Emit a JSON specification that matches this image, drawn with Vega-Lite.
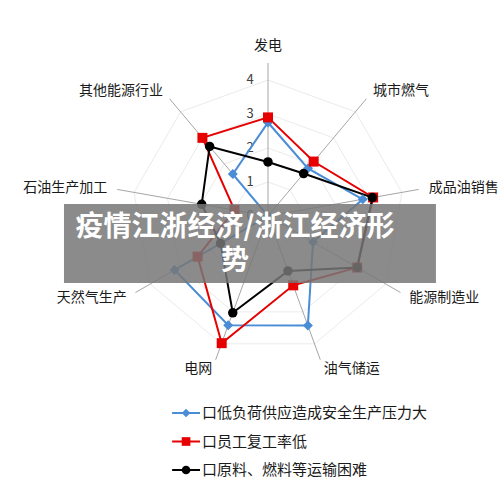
{
  "$schema": "https://vega.github.io/schema/vega-lite/v6.json",
  "width": 500,
  "height": 491,
  "autosize": "none",
  "padding": 0,
  "background": "white",
  "config": {"view": {"stroke": null}, "font": "Noto Sans CJK SC"},
  "datasets": {
    "axes": [
      {"sector": "发电", "k": 0},
      {"sector": "城市燃气", "k": 1},
      {"sector": "成品油销售", "k": 2},
      {"sector": "能源制造业", "k": 3},
      {"sector": "油气储运", "k": 4},
      {"sector": "电网", "k": 5},
      {"sector": "天然气生产", "k": 6},
      {"sector": "石油生产加工", "k": 7},
      {"sector": "其他能源行业", "k": 8}
    ],
    "grid": [
      {"level": 1, "k": [0, 1, 2, 3, 4, 5, 6, 7, 8]},
      {"level": 2, "k": [0, 1, 2, 3, 4, 5, 6, 7, 8]},
      {"level": 3, "k": [0, 1, 2, 3, 4, 5, 6, 7, 8]},
      {"level": 4, "k": [0, 1, 2, 3, 4, 5, 6, 7, 8]}
    ],
    "ticks": [{"tick": 0}, {"tick": 1}, {"tick": 2}, {"tick": 3}, {"tick": 4}],
    "legend": [
      {"series": "口低负荷供应造成安全生产压力大"},
      {"series": "口员工复工率低"},
      {"series": "口原料、燃料等运输困难"}
    ],
    "scores": [
      {"series": "口低负荷供应造成安全生产压力大", "sector": "发电", "value": 2.75},
      {"series": "口低负荷供应造成安全生产压力大", "sector": "城市燃气", "value": 1.83},
      {"series": "口低负荷供应造成安全生产压力大", "sector": "成品油销售", "value": 2.83},
      {"series": "口低负荷供应造成安全生产压力大", "sector": "能源制造业", "value": 1.53},
      {"series": "口低负荷供应造成安全生产压力大", "sector": "油气储运", "value": 3.43},
      {"series": "口低负荷供应造成安全生产压力大", "sector": "电网", "value": 3.42},
      {"series": "口低负荷供应造成安全生产压力大", "sector": "天然气生产", "value": 3.17},
      {"series": "口低负荷供应造成安全生产压力大", "sector": "石油生产加工", "value": 0},
      {"series": "口低负荷供应造成安全生产压力大", "sector": "其他能源行业", "value": 1.61},
      {"series": "口员工复工率低", "sector": "发电", "value": 2.9},
      {"series": "口员工复工率低", "sector": "城市燃气", "value": 2.09},
      {"series": "口员工复工率低", "sector": "成品油销售", "value": 3.14},
      {"series": "口员工复工率低", "sector": "能源制造业", "value": 3.03},
      {"series": "口员工复工率低", "sector": "油气储运", "value": 2.17},
      {"series": "口员工复工率低", "sector": "电网", "value": 3.98},
      {"series": "口员工复工率低", "sector": "天然气生产", "value": 2.39},
      {"series": "口员工复工率低", "sector": "石油生产加工", "value": 1.0},
      {"series": "口员工复工率低", "sector": "其他能源行业", "value": 3.0},
      {"series": "口原料、燃料等运输困难", "sector": "发电", "value": 1.59},
      {"series": "口原料、燃料等运输困难", "sector": "城市燃气", "value": 1.63},
      {"series": "口原料、燃料等运输困难", "sector": "成品油销售", "value": 3.12},
      {"series": "口原料、燃料等运输困难", "sector": "能源制造业", "value": 3.03},
      {"series": "口原料、燃料等运输困难", "sector": "油气储运", "value": 1.72},
      {"series": "口原料、燃料等运输困难", "sector": "电网", "value": 3.03},
      {"series": "口原料、燃料等运输困难", "sector": "天然气生产", "value": 1.61},
      {"series": "口原料、燃料等运输困难", "sector": "石油生产加工", "value": 1.98},
      {"series": "口原料、燃料等运输困难", "sector": "其他能源行业", "value": 2.67}
    ]
  },
  "resolve": {"scale": {"y": "independent"}},
  "layer": [
    {
      "data": {"name": "grid"},
      "transform": [
        {"flatten": ["k"]},
        {"calculate": "datum.level * sin(datum.k * 2 * PI / 9)", "as": "x"},
        {"calculate": "datum.level * cos(datum.k * 2 * PI / 9)", "as": "y"}
      ],
      "mark": {"type": "line", "interpolate": "linear-closed", "color": "#ebebeb", "strokeWidth": 1},
      "encoding": {
        "x": {"field": "x", "type": "quantitative", "scale": {"domain": [-7.882, 6.824], "nice": false, "zero": false}, "axis": null},
        "y": {"field": "y", "type": "quantitative", "scale": {"domain": [-8.088, 6.353], "nice": false, "zero": false}, "axis": null},
        "detail": {"field": "level", "type": "nominal"},
        "order": {"field": "k", "type": "quantitative"}
      }
    },
    {
      "data": {"name": "axes"},
      "transform": [
        {"calculate": "4.5 * sin(datum.k * 2 * PI / 9)", "as": "xe"},
        {"calculate": "4.5 * cos(datum.k * 2 * PI / 9)", "as": "ye"}
      ],
      "mark": {"type": "rule", "color": "#a6a6a6", "strokeWidth": 1},
      "encoding": {
        "x": {"field": "xe", "type": "quantitative", "scale": {"domain": [-7.882, 6.824], "nice": false, "zero": false}, "axis": null},
        "y": {"field": "ye", "type": "quantitative", "scale": {"domain": [-8.088, 6.353], "nice": false, "zero": false}, "axis": null},
        "x2": {"datum": 0},
        "y2": {"datum": 0}
      }
    },
    {
      "data": {"name": "ticks"},
      "mark": {"type": "text", "fontSize": 13, "color": "#404040", "align": "center", "baseline": "middle", "dx": -18},
      "encoding": {
        "x": {"datum": 0, "type": "quantitative", "scale": {"domain": [-7.882, 6.824], "nice": false, "zero": false}, "axis": null},
        "y": {"field": "tick", "type": "quantitative", "scale": {"domain": [-8.088, 6.353], "nice": false, "zero": false}, "axis": null},
        "text": {"field": "tick", "type": "quantitative"}
      }
    },
    {
      "data": {"name": "axes"},
      "transform": [
        {"calculate": "4.8 * sin(datum.k * 2 * PI / 9)", "as": "lx"},
        {"calculate": "4.8 * cos(datum.k * 2 * PI / 9)", "as": "ly"}
      ],
      "encoding": {
        "x": {"field": "lx", "type": "quantitative", "scale": {"domain": [-7.882, 6.824], "nice": false, "zero": false}, "axis": null},
        "y": {"field": "ly", "type": "quantitative", "scale": {"domain": [-8.088, 6.353], "nice": false, "zero": false}, "axis": null},
        "text": {"field": "sector", "type": "nominal"}
      },
      "layer": [
        {
          "transform": [{"filter": "datum.k == 0"}],
          "mark": {"type": "text", "fontSize": 14, "color": "#1a1a1a", "align": "center", "baseline": "bottom"}
        },
        {
          "transform": [{"filter": "datum.k >= 1 && datum.k <= 4"}],
          "mark": {"type": "text", "fontSize": 14, "color": "#1a1a1a", "align": "left", "baseline": "middle"}
        },
        {
          "transform": [{"filter": "datum.k >= 5"}],
          "mark": {"type": "text", "fontSize": 14, "color": "#1a1a1a", "align": "right", "baseline": "middle"}
        }
      ]
    },
    {
      "data": {"name": "scores"},
      "transform": [
        {"lookup": "sector", "from": {"data": {"name": "axes"}, "key": "sector", "fields": ["k"]}},
        {"calculate": "datum.value * sin(datum.k * 2 * PI / 9)", "as": "x"},
        {"calculate": "datum.value * cos(datum.k * 2 * PI / 9)", "as": "y"}
      ],
      "encoding": {
        "x": {"field": "x", "type": "quantitative", "scale": {"domain": [-7.882, 6.824], "nice": false, "zero": false}, "axis": null},
        "y": {"field": "y", "type": "quantitative", "scale": {"domain": [-8.088, 6.353], "nice": false, "zero": false}, "axis": null}
      },
      "layer": [
        {
          "mark": {"type": "line", "interpolate": "linear-closed", "strokeWidth": 2},
          "encoding": {
            "color": {
              "field": "series",
              "type": "nominal",
              "scale": {
                "domain": ["口低负荷供应造成安全生产压力大", "口员工复工率低", "口原料、燃料等运输困难"],
                "range": ["#4a8cd6", "#e60000", "#000000"]
              },
              "legend": null
            },
            "order": {"field": "k", "type": "quantitative"}
          }
        },
        {
          "transform": [{"filter": "datum.series === '口低负荷供应造成安全生产压力大'"}],
          "mark": {"type": "point", "shape": "diamond", "filled": true, "opacity": 1, "size": 100, "color": "#4a8cd6"}
        },
        {
          "transform": [{"filter": "datum.series === '口员工复工率低'"}],
          "mark": {"type": "point", "shape": "square", "filled": true, "opacity": 1, "size": 100, "color": "#e60000"}
        },
        {
          "transform": [{"filter": "datum.series === '口原料、燃料等运输困难'"}],
          "mark": {"type": "point", "shape": "circle", "filled": true, "opacity": 1, "size": 90, "color": "#000000"}
        }
      ]
    },
    {
      "data": {"name": "legend"},
      "encoding": {
        "y": {
          "field": "series",
          "type": "nominal",
          "scale": {
            "type": "point",
            "domain": ["口低负荷供应造成安全生产压力大", "口员工复工率低", "口原料、燃料等运输困难"],
            "range": [413, 470],
            "padding": 0
          },
          "axis": null
        }
      },
      "layer": [
        {
          "mark": {"type": "rule", "strokeWidth": 2},
          "encoding": {
            "x": {"datum": -2.82, "type": "quantitative", "scale": {"domain": [-7.882, 6.824], "nice": false, "zero": false}, "axis": null},
            "x2": {"datum": -2.0},
            "color": {
              "field": "series",
              "type": "nominal",
              "scale": {
                "domain": ["口低负荷供应造成安全生产压力大", "口员工复工率低", "口原料、燃料等运输困难"],
                "range": ["#4a8cd6", "#e60000", "#000000"]
              },
              "legend": null
            }
          }
        },
        {
          "mark": {"type": "point", "filled": true, "opacity": 1, "size": 75},
          "encoding": {
            "x": {"datum": -2.41, "type": "quantitative", "scale": {"domain": [-7.882, 6.824], "nice": false, "zero": false}, "axis": null},
            "color": {
              "field": "series",
              "type": "nominal",
              "scale": {
                "domain": ["口低负荷供应造成安全生产压力大", "口员工复工率低", "口原料、燃料等运输困难"],
                "range": ["#4a8cd6", "#e60000", "#000000"]
              },
              "legend": null
            },
            "shape": {
              "field": "series",
              "type": "nominal",
              "scale": {
                "domain": ["口低负荷供应造成安全生产压力大", "口员工复工率低", "口原料、燃料等运输困难"],
                "range": ["diamond", "square", "circle"]
              },
              "legend": null
            }
          }
        },
        {
          "mark": {"type": "text", "fontSize": 15, "color": "#1a1a1a", "align": "left", "baseline": "middle"},
          "encoding": {
            "x": {"datum": -1.94, "type": "quantitative", "scale": {"domain": [-7.882, 6.824], "nice": false, "zero": false}, "axis": null},
            "text": {"field": "series", "type": "nominal"}
          }
        }
      ]
    },
    {
      "data": {"values": [{}]},
      "mark": {"type": "rect", "color": "#777777", "opacity": 0.85},
      "encoding": {
        "x": {"datum": -6.0, "type": "quantitative", "scale": {"domain": [-7.882, 6.824], "nice": false, "zero": false}, "axis": null},
        "x2": {"datum": 4.94},
        "y": {"datum": 0.353, "type": "quantitative", "scale": {"domain": [-8.088, 6.353], "nice": false, "zero": false}, "axis": null},
        "y2": {"datum": -1.97}
      }
    },
    {
      "data": {"values": [{}]},
      "mark": {
        "type": "text",
        "text": ["疫情江浙经济/浙江经济形", "势"],
        "fontSize": 28,
        "fontWeight": "bold",
        "color": "white",
        "align": "center",
        "baseline": "middle",
        "lineHeight": 34
      },
      "encoding": {
        "x": {"datum": -0.97, "type": "quantitative", "scale": {"domain": [-7.882, 6.824], "nice": false, "zero": false}, "axis": null},
        "y": {"datum": -0.35, "type": "quantitative", "scale": {"domain": [-8.088, 6.353], "nice": false, "zero": false}, "axis": null}
      }
    }
  ]
}
